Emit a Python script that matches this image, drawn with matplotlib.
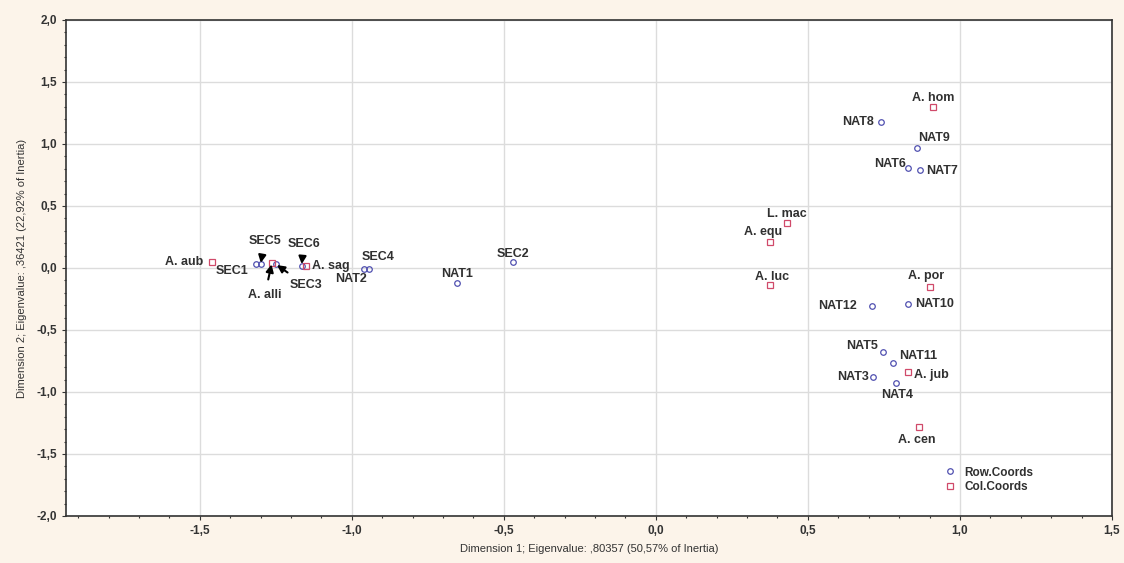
import matplotlib.pyplot as plt
from matplotlib.ticker import FuncFormatter, MultipleLocator

#--- data ---#
row_names = ["SEC1", "SEC5", "SEC3", "SEC6", "SEC4", "NAT2", "NAT1", "SEC2",
             "NAT8", "NAT9", "NAT6", "NAT7", "NAT12", "NAT10",
             "NAT5", "NAT11", "NAT3", "NAT4"]
row_x = [-1.316, -1.30, -1.25, -1.165, -0.96, -0.944, -0.655, -0.47,
         0.74, 0.86, 0.83, 0.87, 0.71, 0.83,
         0.747, 0.78, 0.714, 0.79]
row_y = [0.03, 0.03, 0.03, 0.02, -0.01, -0.01, -0.12, 0.05,
         1.18, 0.97, 0.81, 0.79, -0.31, -0.29,
         -0.68, -0.77, -0.88, -0.93]

col_names = ["A. aub", "A. alli", "A. sag", "A. hom", "L. mac", "A. equ",
             "A. luc", "A. por", "A. jub", "A. cen"]
col_x = [-1.46, -1.263, -1.15, 0.91, 0.43, 0.375, 0.375, 0.90, 0.83, 0.865]
col_y = [0.05, 0.04, 0.02, 1.30, 0.36, 0.21, -0.14, -0.15, -0.84, -1.28]

#--- label offsets in pixels (dx, dy), and which ones get an arrow ---#
offsets = {
    "SEC1": (-24, -7), "SEC5": (4, 23), "SEC3": (30, -21), "SEC6": (2, 22),
    "SEC4": (14, 12), "NAT2": (-18, -10), "NAT1": (0, 9), "SEC2": (0, 8),
    "NAT8": (-23, 0), "NAT9": (17, 10), "NAT6": (-18, 4), "NAT7": (22, -1),
    "NAT12": (-34, 0), "NAT10": (26, 0), "NAT5": (-21, 6), "NAT11": (25, 7),
    "NAT3": (-20, 0), "NAT4": (1, -12),
    "A. aub": (-28, 0), "A. alli": (-7, -32), "A. sag": (25, 0),
    "A. hom": (1, 9), "L. mac": (0, 9), "A. equ": (-7, 10), "A. luc": (2, 8),
    "A. por": (-3, 11), "A. jub": (23, -3), "A. cen": (-2, -13),
}
arrows = {"SEC5", "SEC6", "SEC3", "A. alli"}

blue = "#5050b0"
red = "#d04a6a"
txt = "#303030"

fig = plt.figure(figsize=(11.24, 5.63), dpi=100, facecolor="#fcf4ea")
ax = fig.add_axes([0.0587, 0.0835, 0.9306, 0.881])
ax.set_facecolor("white")

ax.plot(row_x, row_y, "o", ms=4, mfc="none", mec=blue, mew=0.9, label="Row.Coords")
ax.plot(col_x, col_y, "s", ms=4, mfc="none", mec=red, mew=0.9, label="Col.Coords")

font = dict(family="Liberation Sans", fontsize=9, fontweight="bold", color=txt)
for names, xs, ys in [(row_names, row_x, row_y), (col_names, col_x, col_y)]:
    for n, xv, yv in zip(names, xs, ys):
        dx, dy = offsets[n]
        if n in arrows:
            ax.annotate(n, (xv, yv), xytext=(dx, dy), textcoords="offset pixels",
                        ha="center", va="center",
                        arrowprops=dict(arrowstyle="-|>", color="black", lw=1.5,
                                        shrinkA=5, shrinkB=1, mutation_scale=11),
                        **font)
        else:
            ax.annotate(n, (xv, yv), xytext=(dx, dy), textcoords="offset pixels",
                        ha="center", va="center", **font)

ax.set_xlim(-1.94, 1.5)
ax.set_ylim(-2.0, 2.0)
ax.xaxis.set_major_locator(MultipleLocator(0.5))
ax.yaxis.set_major_locator(MultipleLocator(0.5))
ax.xaxis.set_minor_locator(MultipleLocator(0.1))
ax.yaxis.set_minor_locator(MultipleLocator(0.1))
comma = FuncFormatter(lambda v, p: f"{v:.1f}".replace(".", ","))
ax.xaxis.set_major_formatter(comma)
ax.yaxis.set_major_formatter(comma)
ax.grid(True, which="major", color="#dcdcdc", lw=1.0)
ax.tick_params(which="both", direction="out", length=3, width=0.8, colors="#333333",
               labelsize=8.5)
ax.tick_params(which="minor", length=1.5)
for lab in ax.get_xticklabels() + ax.get_yticklabels():
    lab.set_fontfamily("Liberation Sans")
    lab.set_fontweight("bold")
for s in ax.spines.values():
    s.set_color("#333333")
    s.set_linewidth(1.2)

ax.set_xlabel("Dimension 1; Eigenvalue: ,80357 (50,57% of Inertia)",
              family="Liberation Sans", fontsize=8, color="#333333", labelpad=5)
ax.set_ylabel("Dimension 2; Eigenvalue: ,36421 (22,92% of Inertia)",
              family="Liberation Sans", fontsize=8, color="#333333", labelpad=7)

ax.legend(loc="lower right", bbox_to_anchor=(0.935, 0.025), frameon=False,
          prop=dict(family="Liberation Sans", size=8.5, weight="bold"),
          handlelength=0.8, handletextpad=0.8, labelspacing=0.2, labelcolor=txt)

plt.savefig("out.png", dpi=100, facecolor=fig.get_facecolor())
